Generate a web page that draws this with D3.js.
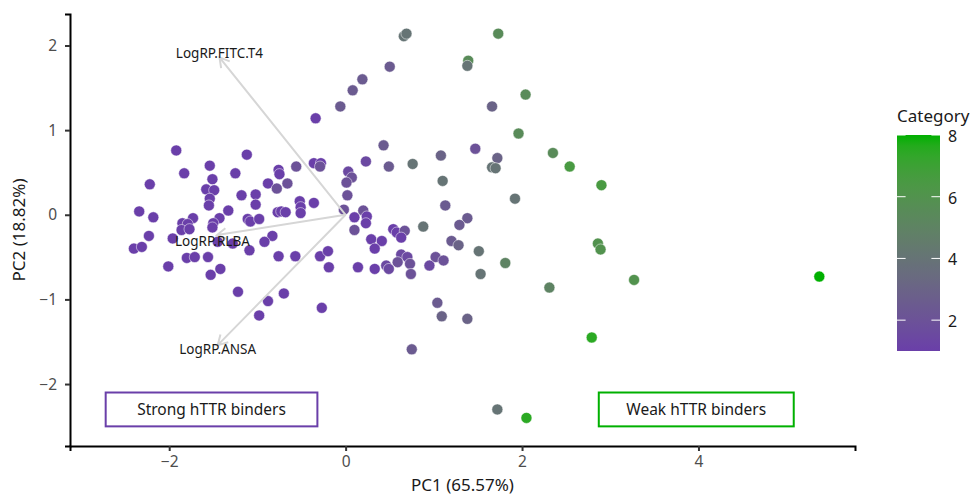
<!DOCTYPE html>
<html>
<head>
<meta charset="utf-8">
<script src="https://cdn.jsdelivr.net/npm/d3@7"></script>
<style>
body { margin: 0; background: #fff; }
text { font-family: "Noto Sans", sans-serif; }
</style>
</head>
<body>
<div id="chart"></div>
<script>
// PCA scores
var pc1 = [
  -1.92,-1.12,-1.83,-1.54,-1.25,-1.51,-2.22,-1.58,-1.49,-1.54,
  -1.55,-0.76,-0.75,-0.56,-0.36,-0.28,-0.29,-0.88,-0.78,-0.66,
  -1.18,-1.02,-1.02,-0.52,-0.51,-0.51,-0.36,0.03,0.07,0.01,
  0.02,-0.02,0.10,0.10,-2.34,-2.18,-1.33,-1.43,-1.73,-1.85,
  -1.79,-1.86,-1.77,-1.50,-1.51,-1.11,-1.08,-0.98,-0.77,-0.73,
  -0.68,-2.23,-1.96,-2.40,-2.31,-1.45,-1.28,-0.83,-0.92,-1.09,
  -1.80,-1.71,-1.56,-2.01,-1.53,-1.42,-0.76,-0.57,-0.29,-0.20,
  -0.19,0.14,-1.22,-0.70,-0.88,-0.27,-0.98,
  -0.34,-0.06,0.08,0.19,0.50,0.66,0.69,1.73,1.39,1.38,
  2.04,1.66,1.96,0.43,1.47,2.35,1.08,2.54,2.90,1.72,
  1.66,1.70,0.76,0.49,0.23,1.10,1.92,1.13,1.38,1.29,
  0.88,0.54,0.58,0.67,0.63,0.29,0.41,0.33,0.20,0.24,
  0.23,1.20,1.28,1.51,1.81,1.53,2.31,2.86,2.89,3.27,
  5.37,2.79,1.04,1.09,1.38,0.75,1.72,2.05,0.63,0.70,
  0.59,0.73,0.74,1.02,1.11,0.95,0.46,0.49,0.33
];
var pc2 = [
  0.76,0.71,0.49,0.58,0.49,0.42,0.36,0.30,0.29,0.19,
  0.11,0.53,0.48,0.57,0.61,0.61,0.57,0.37,0.31,0.37,
  0.23,0.24,0.12,0.16,0.09,0.02,0.14,0.51,0.44,0.38,
  0.23,0.06,-0.03,-0.18,0.04,-0.03,0.05,-0.04,-0.04,-0.10,
  -0.11,-0.18,-0.17,-0.10,-0.15,-0.05,-0.08,-0.05,0.03,0.04,
  0.03,-0.25,-0.28,-0.40,-0.38,-0.32,-0.34,-0.25,-0.32,-0.42,
  -0.51,-0.50,-0.50,-0.61,-0.71,-0.64,-0.49,-0.49,-0.49,-0.43,
  -0.62,-0.62,-0.91,-0.93,-1.02,-1.10,-1.19,
  1.14,1.28,1.47,1.60,1.75,2.11,2.14,2.14,1.82,1.76,
  1.42,1.28,0.96,0.82,0.78,0.73,0.70,0.57,0.35,0.67,
  0.56,0.55,0.60,0.57,0.63,0.40,0.19,0.11,-0.04,-0.12,
  -0.14,-0.17,-0.21,-0.19,-0.27,-0.29,-0.31,-0.40,0.05,-0.02,
  -0.10,-0.31,-0.36,-0.43,-0.57,-0.70,-0.86,-0.34,-0.41,-0.77,
  -0.73,-1.45,-1.04,-1.20,-1.23,-1.59,-2.30,-2.40,-0.47,-0.50,
  -0.56,-0.58,-0.70,-0.50,-0.54,-0.60,-0.60,-0.64,-0.64
];
var category = [
  1,1,1,1,1,1,1,1,1,1,
  1,1,1,2,1,1,2,1,2,2,
  1,1,1,1,1,1,1,1.5,2,2,
  2,2,1,2,1,1,1,1,1,1,
  1,1,1,1,1,1,1,1,1,1,
  1,1,1,1,1,1,1,1,1,1,
  1,1,1,1,1,1,1,1,1,1,
  1,1,1,1,1,1,1,
  1,2.5,2.5,2.5,2.5,4,4,5.5,5.5,4,
  5.5,3,5.5,2.5,2,5.5,3,6.5,6.5,3,
  4,4,4,2.5,1.5,4,4,2.5,2.5,2.5,
  4,1,1,2,1,1,1,1,2,1,
  1,2.5,3,4,5,4,5,6,6,6,
  8,7.5,2.5,3,3,2.5,4,7.5,1.5,1.5,
  2,2,2,2,2,1.5,1.5,1.5,1
];

// variable loadings (arrows) and label positions
var varNames = ["LogRP.FITC.T4", "LogRP.RLBA", "LogRP.ANSA"];
var varPC1 = [-1.43, -1.46, -1.45];
var varPC2 = [1.86, -0.24, -1.54];
var varLabelPC1 = [-1.43, -1.51, -1.45];
var varLabelPC2 = [1.91, -0.31, -1.59];

// annotation boxes
var boxLabels = ["Strong hTTR binders", "Weak hTTR binders"];
var boxXmin = [-2.72, 2.87];
var boxXmax = [-0.32, 5.08];
var boxYmin = [-2.50, -2.50];
var boxYmax = [-2.10, -2.10];

var xTicks = [-2, 0, 2, 4];
var yTicks = [-2, -1, 0, 1, 2];
var legendTicks = [2, 4, 6, 8];

var width = 972, height = 498;
var margin = {top: 14, right: 117, bottom: 52, left: 70};

var lowCol = "#6a3fa9", highCol = "#00b000";
var boxCols = [lowCol, highCol];

var svg = d3.select("#chart")
    .append("svg")
    .attr("width", width)
    .attr("height", height);

// limits: points + boxes, expanded 5% like ggplot
var xAll = pc1.concat(boxXmin, boxXmax);
var yAll = pc2.concat(boxYmin, boxYmax);
var xExt = d3.extent(xAll), yExt = d3.extent(yAll);
var xPad = (xExt[1] - xExt[0]) * 0.05, yPad = (yExt[1] - yExt[0]) * 0.05;

var xScale = d3.scaleLinear()
    .domain([xExt[0] - xPad, xExt[1] + xPad])
    .range([margin.left, width - margin.right]);
var yScale = d3.scaleLinear()
    .domain([yExt[0] - yPad, yExt[1] + yPad])
    .range([height - margin.bottom, margin.top]);

var colour = d3.scaleLinear()
    .domain([1, 8])
    .range([lowCol, highCol])
    .interpolate(d3.interpolateLab);

// points
var points = pc1.map(function(d, i){ return {x: d, y: pc2[i], c: category[i]}; });
svg.append("g")
    .selectAll("circle")
    .data(points)
    .enter().append("circle")
    .attr("cx", function(d){ return xScale(d.x); })
    .attr("cy", function(d){ return yScale(d.y); })
    .attr("r", 5.5)
    .attr("fill", function(d){ return colour(d.c); })
    .attr("stroke", "#fff")
    .attr("stroke-width", 0.5);

// arrows
var arrows = svg.append("g");
varNames.forEach(function(name, i){
    var x0 = xScale(0), y0 = yScale(0);
    var x1 = xScale(varPC1[i]), y1 = yScale(varPC2[i]);
    var ang = Math.atan2(y1 - y0, x1 - x0);
    var len = 11, spread = Math.PI / 6;
    var head = "M" + (x1 - len * Math.cos(ang - spread)) + "," + (y1 - len * Math.sin(ang - spread)) +
        "L" + x1 + "," + y1 +
        "L" + (x1 - len * Math.cos(ang + spread)) + "," + (y1 - len * Math.sin(ang + spread));
    arrows.append("path")
        .attr("d", "M" + x0 + "," + y0 + "L" + x1 + "," + y1 + head)
        .attr("fill", "none")
        .attr("stroke", "#d6d6d6")
        .attr("stroke-width", 2);
});
svg.append("g")
    .selectAll("text")
    .data(varNames)
    .enter().append("text")
    .attr("x", function(d, i){ return xScale(varLabelPC1[i]); })
    .attr("y", function(d, i){ return yScale(varLabelPC2[i]); })
    .attr("text-anchor", "middle")
    .attr("dominant-baseline", "central")
    .attr("font-size", 13.5)
    .attr("fill", "#1a1a1a")
    .text(function(d){ return d; });

// annotation boxes
boxLabels.forEach(function(lab, i){
    svg.append("rect")
        .attr("x", xScale(boxXmin[i]))
        .attr("y", yScale(boxYmax[i]))
        .attr("width", xScale(boxXmax[i]) - xScale(boxXmin[i]))
        .attr("height", yScale(boxYmin[i]) - yScale(boxYmax[i]))
        .attr("fill", "#fff")
        .attr("stroke", boxCols[i])
        .attr("stroke-width", 2);
    svg.append("text")
        .attr("x", xScale((boxXmin[i] + boxXmax[i]) / 2))
        .attr("y", yScale((boxYmin[i] + boxYmax[i]) / 2))
        .attr("text-anchor", "middle")
        .attr("dominant-baseline", "central")
        .attr("font-size", 15.5)
        .attr("fill", "#1a1a1a")
        .text(lab);
});

// axes
var fmt = d3.format("d");
var xAxis = svg.append("g")
    .attr("transform", "translate(0," + (height - margin.bottom) + ")")
    .call(d3.axisBottom(xScale).tickValues(xTicks).tickFormat(fmt)
        .tickSizeOuter(0).tickSize(5).tickPadding(5));
var yAxis = svg.append("g")
    .attr("transform", "translate(" + margin.left + ",0)")
    .call(d3.axisLeft(yScale).tickValues(yTicks).tickFormat(fmt)
        .tickSizeOuter(0).tickSize(5).tickPadding(8));
[xAxis, yAxis].forEach(function(g){
    g.select(".domain").attr("stroke", "#000").attr("stroke-width", 2);
    g.selectAll(".tick line").attr("stroke", "#333").attr("stroke-width", 2);
    g.selectAll(".tick text").attr("fill", "#4d4d4d").attr("font-size", 15.5)
        .attr("font-family", "Noto Sans, sans-serif");
});

svg.append("text")
    .attr("x", (margin.left + width - margin.right) / 2)
    .attr("y", 491)
    .attr("text-anchor", "middle")
    .attr("font-size", 17)
    .attr("fill", "#1a1a1a")
    .text("PC1 (65.57%)");
svg.append("text")
    .attr("transform", "translate(25," + (margin.top + height - margin.bottom) / 2 + ") rotate(-90)")
    .attr("text-anchor", "middle")
    .attr("font-size", 17)
    .attr("fill", "#1a1a1a")
    .text("PC2 (18.82%)");

// colour legend
var legY = d3.scaleLinear().domain([1, 8]).range([351, 135]);
var grad = svg.append("defs").append("linearGradient")
    .attr("id", "catGrad")
    .attr("x1", 0).attr("y1", 1).attr("x2", 0).attr("y2", 0);
d3.range(0, 1.0001, 0.05).forEach(function(t){
    grad.append("stop")
        .attr("offset", t)
        .attr("stop-color", colour(1 + 7 * t));
});
var legX = 897, legW = 43;
svg.append("rect")
    .attr("x", legX)
    .attr("y", legY(8))
    .attr("width", legW)
    .attr("height", legY(1) - legY(8))
    .attr("fill", "url(#catGrad)");
var legTick = svg.append("g");
legendTicks.forEach(function(t){
    legTick.append("line")
        .attr("x1", legX).attr("x2", legX + 8.6)
        .attr("y1", legY(t)).attr("y2", legY(t))
        .attr("stroke", "#fff").attr("stroke-width", 1);
    legTick.append("line")
        .attr("x1", legX + legW - 8.6).attr("x2", legX + legW)
        .attr("y1", legY(t)).attr("y2", legY(t))
        .attr("stroke", "#fff").attr("stroke-width", 1);
    legTick.append("text")
        .attr("x", legX + legW + 8)
        .attr("y", legY(t) + 1)
        .attr("dominant-baseline", "central")
        .attr("font-size", 16)
        .attr("fill", "#1a1a1a")
        .text(t);
});
svg.append("text")
    .attr("x", legX)
    .attr("y", 122)
    .attr("font-size", 17)
    .attr("fill", "#1a1a1a")
    .text("Category");
</script>
</body>
</html>
